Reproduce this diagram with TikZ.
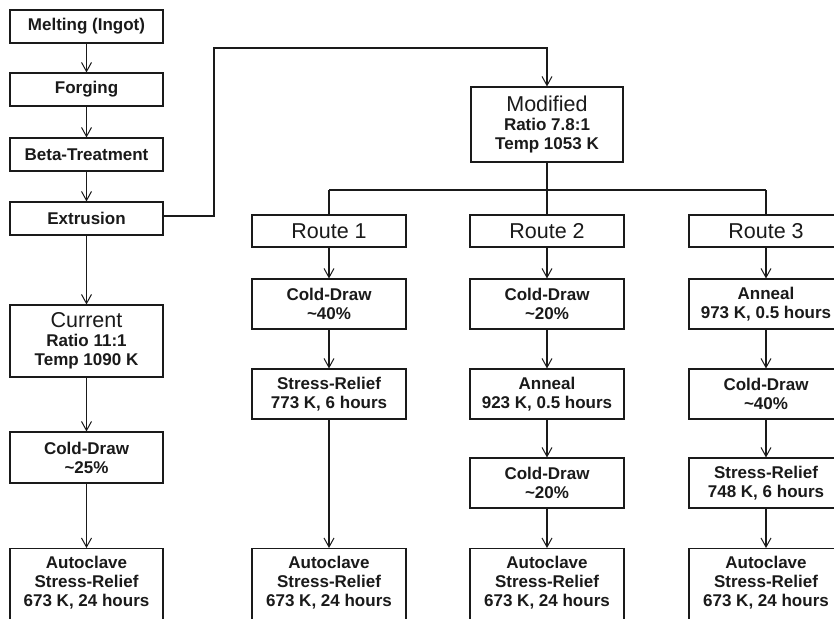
\documentclass[tikz,border=0pt]{standalone}
\usepackage{fontspec}
\setmainfont{Liberation Sans}
\usetikzlibrary{arrows.meta}
\definecolor{ink}{HTML}{1A1A1A}
\newcommand\hdline[1]{{\fontsize{21.5}{21}\selectfont\mdseries #1}}
\newcommand\deepline{\rule[-16pt]{0pt}{16pt}}
\begin{document}
\begin{tikzpicture}[x=1pt,y=-1pt,
  box/.style={draw=ink, line width=1.1pt, align=center, inner sep=0pt,
    minimum width=153pt, text=ink, font=\fontsize{17}{19}\selectfont\bfseries},
  rbox/.style={box, minimum width=154pt},
  autobox/.style={box, anchor=north, inner ysep=7.5pt},
  arr/.style={draw=ink, line width=1.1pt, -{Straight Barb[length=9pt,width=10pt,line width=1pt]}},
  ln/.style={draw=ink, line width=1.1pt},
]
\useasboundingbox (0,0) rectangle (834,618);
\clip (0,0) rectangle (834,618);
\fill[white] (0,0) rectangle (834,618);

% left column
\node[box, minimum height=33pt] (melt) at (86.5,26.5) {Melting (Ingot)};
\node[box, minimum height=33pt] (forge) at (86.5,89.5) {Forging};
\node[box, minimum height=33pt] (beta) at (86.5,154.5) {Beta-Treatment};
\node[box, minimum height=33pt] (extr) at (86.5,218.5) {Extrusion};
\node[box, minimum height=72pt] (current) at (86.5,341) {\hdline{Current}\\Ratio 11:1\\Temp 1090 K};
\node[box, minimum height=51pt] (cd25) at (86.5,457.5) {Cold-Draw\\\textasciitilde25\%};
\node[autobox] (auto0) at (86.5,548) {Autoclave\\Stress-Relief\\673 K, 24 hours\deepline};

% modified
\node[box, minimum width=152pt, minimum height=75pt] (modified) at (547,124.5) {\hdline{Modified}\\Ratio 7.8:1\\Temp 1053 K};

% routes
\node[rbox, minimum height=32pt] (route1) at (329,231) {\hdline{Route 1}};
\node[rbox, minimum height=32pt] (route2) at (547,231) {\hdline{Route 2}};
\node[rbox, minimum height=32pt] (route3) at (766,231) {\hdline{Route 3}};

% route 1
\node[rbox, minimum height=50pt] (r1a) at (329,304) {Cold-Draw\\\textasciitilde40\%};
\node[rbox, minimum height=50pt] (r1b) at (329,394) {Stress-Relief\\773 K, 6 hours};
\node[autobox, minimum width=154pt] (r1auto) at (329,548) {Autoclave\\Stress-Relief\\673 K, 24 hours\deepline};

% route 2
\node[rbox, minimum height=50pt] (r2a) at (547,304) {Cold-Draw\\\textasciitilde20\%};
\node[rbox, minimum height=50pt] (r2b) at (547,394) {Anneal\\923 K, 0.5 hours};
\node[rbox, minimum height=50pt] (r2c) at (547,483) {Cold-Draw\\\textasciitilde20\%};
\node[autobox, minimum width=154pt] (r2auto) at (547,548) {Autoclave\\Stress-Relief\\673 K, 24 hours\deepline};

% route 3
\node[rbox, minimum height=50pt] (r3a) at (766,304) {Anneal\\973 K, 0.5 hours};
\node[rbox, minimum height=50pt] (r3b) at (766,394) {Cold-Draw\\\textasciitilde40\%};
\node[rbox, minimum height=50pt] (r3c) at (766,483) {Stress-Relief\\748 K, 6 hours};
\node[autobox, minimum width=154pt] (r3auto) at (766,548) {Autoclave\\Stress-Relief\\673 K, 24 hours\deepline};

% connectors, left column
\draw[arr] (melt) -- (forge);
\draw[arr] (forge) -- (beta);
\draw[arr] (beta) -- (extr);
\draw[arr] (extr) -- (current);
\draw[arr] (current) -- (cd25);
\draw[arr] (cd25) -- (auto0);

% extrusion to modified
\coordinate (k1) at (214,216);
\coordinate (k2) at (214,48);
\coordinate (k3) at (547,48);
\draw[arr] (extr.east |- k1) -- (k1) -- (k2) -- (k3) -- (modified.north);

% bus
\coordinate (bus1) at (329,190);
\coordinate (bus3) at (766,190);
\draw[ln] (modified) -- (route2);
\draw[ln] (bus1) -- (bus3);
\draw[ln] (bus1) -- (route1);
\draw[ln] (bus3) -- (route3);

% route arrows
\draw[arr] (route1) -- (r1a);
\draw[arr] (r1a) -- (r1b);
\draw[arr] (r1b) -- (r1auto);
\draw[arr] (route2) -- (r2a);
\draw[arr] (r2a) -- (r2b);
\draw[arr] (r2b) -- (r2c);
\draw[arr] (r2c) -- (r2auto);
\draw[arr] (route3) -- (r3a);
\draw[arr] (r3a) -- (r3b);
\draw[arr] (r3b) -- (r3c);
\draw[arr] (r3c) -- (r3auto);
\end{tikzpicture}
\end{document}
